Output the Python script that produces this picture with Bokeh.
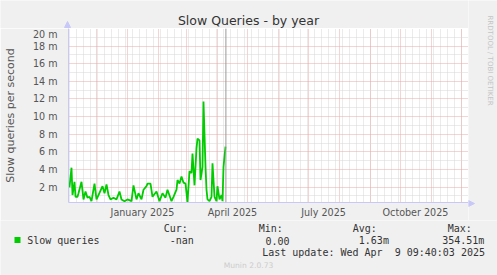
import math
import pandas as pd
from bokeh.plotting import figure
from bokeh.layouts import column, row
from bokeh.models import Range1d, FixedTicker, Label, Span, Arrow, NormalHead
from bokeh.embed import file_html
from bokeh.resources import INLINE

# ---------------- data ----------------
dates = [
    "2024-11-03", "2024-11-04", "2024-11-06", "2024-11-07", "2024-11-09", "2024-11-10",
    "2024-11-12", "2024-11-13", "2024-11-16", "2024-11-18", "2024-11-20", "2024-11-22",
    "2024-11-24", "2024-11-26", "2024-11-29", "2024-12-01", "2024-12-03", "2024-12-07",
    "2024-12-09", "2024-12-11", "2024-12-13", "2024-12-15", "2024-12-18", "2024-12-21",
    "2024-12-24", "2024-12-26", "2024-12-29", "2025-01-01", "2025-01-05", "2025-01-07",
    "2025-01-10", "2025-01-12", "2025-01-15", "2025-01-17", "2025-01-20", "2025-01-21",
    "2025-01-24", "2025-01-26", "2025-01-30", "2025-02-02", "2025-02-05", "2025-02-08",
    "2025-02-10", "2025-02-14", "2025-02-16", "2025-02-19", "2025-02-20", "2025-02-22",
    "2025-02-24", "2025-02-26", "2025-02-28", "2025-03-02", "2025-03-04", "2025-03-06",
    "2025-03-07", "2025-03-09", "2025-03-11", "2025-03-12", "2025-03-14", "2025-03-15",
    "2025-03-17", "2025-03-18", "2025-03-20", "2025-03-21", "2025-03-22", "2025-03-24",
    "2025-03-26", "2025-03-27", "2025-03-29", "2025-03-31", "2025-04-01", "2025-04-03",
    "2025-04-05", "2025-04-06", "2025-04-07", "2025-04-09",
]
slow_queries_m = [
    2.3, 2.0, 4.2, 1.1, 2.6, 0.9,
    0.9, 1.3, 2.6, 0.6, 1.5, 0.8,
    0.9, 0.4, 2.4, 0.6, 1.1, 2.1,
    1.3, 2.3, 1.1, 0.6, 0.8, 0.6,
    1.5, 0.6, 0.4, 0.6, 0.4, 2.2,
    0.6, 1.3, 0.6, 1.7, 2.1, 2.4,
    2.4, 0.9, 1.5, 0.4, 1.3, 0.8,
    1.7, 0.4, 0.9, 1.7, 2.8, 2.4,
    3.2, 2.5, 2.4, 0.3, 3.8, 3.6,
    5.8, 2.2, 6.4, 7.5, 7.3, 2.8,
    4.3, 11.7, 4.3, 1.7, 0.6, 0.4,
    0.9, 4.7, 0.9, 0.4, 2.1, 0.6,
    1.1, 0.4, 4.3, 6.6,
]

y_ticks = [2, 4, 6, 8, 10, 12, 14, 16, 18, 20]
y_minor = [1, 3, 5, 7, 9, 11, 13, 15, 17, 19]
y_tick_labels = ["2 m", "4 m", "6 m", "8 m", "10 m", "12 m", "14 m", "16 m", "18 m", "20 m"]
x_tick_dates = ["2025-01-16", "2025-04-16", "2025-07-16", "2025-10-16"]
x_tick_labels = ["January 2025", "April 2025", "July 2025", "October 2025"]
range_start = "2024-11-03"
range_end = "2025-12-08"
now_time = "2025-04-09 09:40:03"

series_name = "Slow queries"
stat_cur = "-nan"
stat_min = "0.00"
stat_avg = "1.63m"
stat_max = "354.51m"
last_update = "Last update: Wed Apr  9 09:40:03 2025"


def ms(s):
    return pd.Timestamp(s).value / 1e6


# ---------------- layout constants ----------------
W, H = 497, 275
FL, FT, FR, FB = 67, 28, 468, 203   # frame left/top/right/bottom (canvas px)
MAIN_H = 220                         # main chart block height (title + chart)
BG = "#F0F0F0"
GREEN = "#00CC00"
AXIS = "#C8C8F8"
MGRID = "#EAA8A8"
GRID = "#D6D6D6"
SANS = "DejaVu Sans"
MONO = "DejaVu Sans Mono"


def blank(w, h, x0, x1, y0, y1):
    """A figure with no axes whose data coordinates equal canvas pixels."""
    f = figure(width=w, height=h, x_range=Range1d(x0, x1), y_range=Range1d(y1, y0),
               x_axis_location=None, y_axis_location=None,
               output_backend="svg", toolbar_location=None,
               min_border=0, background_fill_color=BG, border_fill_color=BG)
    f.grid.visible = False
    f.outline_line_color = None
    f.title.visible = False
    return f


# ---------------- main chart ----------------
p = figure(
    width=FR, height=MAIN_H - FT,
    x_axis_type="datetime",
    x_range=Range1d(ms(range_start), ms(range_end)),
    y_range=Range1d(0.25, 20),
    output_backend="svg", toolbar_location=None,
    min_border_left=FL, min_border_right=0,
    min_border_top=0, min_border_bottom=MAIN_H - FB,
    background_fill_color="white", border_fill_color=BG,
)
p.title.visible = False
p.outline_line_color = None

p.line(pd.to_datetime(dates), slow_queries_m, line_color=GREEN, line_width=1.8)

yax = p.yaxis[0]
yax.ticker = FixedTicker(ticks=y_ticks, minor_ticks=y_minor)
yax.major_label_overrides = {t: l for t, l in zip(y_ticks, y_tick_labels)}
yax.axis_line_color = AXIS
yax.major_tick_line_color = None
yax.minor_tick_line_color = None
yax.major_tick_out = 0
yax.major_tick_in = 0
yax.major_label_standoff = 7
yax.major_label_text_font = SANS
yax.major_label_text_font_size = "9.6px"
yax.major_label_text_color = "#555555"
yax.axis_label = "Slow queries per second"
yax.axis_label_text_font = SANS
yax.axis_label_text_font_size = "11px"
yax.axis_label_text_font_style = "normal"
yax.axis_label_text_color = "#555555"
yax.axis_label_standoff = 13

xt = [ms(d) for d in x_tick_dates]
xax = p.xaxis[0]
xax.ticker = FixedTicker(ticks=xt, minor_ticks=[])
xax.major_label_overrides = {t: l for t, l in zip(xt, x_tick_labels)}
xax.axis_line_color = AXIS
xax.major_tick_line_color = None
xax.minor_tick_line_color = None
xax.major_tick_out = 0
xax.major_tick_in = 0
xax.major_label_standoff = 4
xax.major_label_text_font = SANS
xax.major_label_text_font_size = "9.6px"
xax.major_label_text_color = "#555555"

month_starts = [ms(d) for d in pd.date_range("2024-12-01", "2025-12-01", freq="MS")]
weeks = [ms(d) for d in pd.date_range(range_start, range_end, freq="W-MON")]
p.xgrid[0].ticker = FixedTicker(ticks=month_starts, minor_ticks=weeks)
for g in (p.xgrid[0], p.ygrid[0]):
    g.grid_line_color = MGRID
    g.grid_line_dash = "1 1"
    g.grid_line_width = 1
    g.minor_grid_line_color = GRID
    g.minor_grid_line_dash = "1 1"
    g.minor_grid_line_width = 1
    g.level = "underlay"

p.add_layout(Span(location=ms(now_time), dimension="height", line_color="#999999", line_width=1))

# ---------------- title strip (top) ----------------
top = blank(FR, FT, 0, FR, 0, FT)
top.add_layout(Label(x=248, y=20, text="Slow Queries - by year", text_font=SANS,
                     text_font_size="12.5px", text_color="#333333",
                     text_align="center", text_baseline="alphabetic"))
top.add_layout(Arrow(x_start=FL, y_start=FT, x_end=FL, y_end=21, line_color=AXIS, line_width=1,
                     end=NormalHead(size=6, fill_color=AXIS, line_color=AXIS)))

# ---------------- watermark strip (right) ----------------
wm = blank(W - FR, MAIN_H, FR, W, 0, MAIN_H)
wm.add_layout(Label(x=489, y=15, text="RRDTOOL / TOBI OETIKER", text_font=SANS,
                    text_font_size="7px", text_color="#C4C4C4",
                    text_align="left", text_baseline="middle", angle=-math.pi / 2))
wm.add_layout(Arrow(x_start=FR, y_start=FB, x_end=FR + 6, y_end=FB, line_color=AXIS, line_width=1,
                    end=NormalHead(size=6, fill_color=AXIS, line_color=AXIS)))

# ---------------- legend strip (bottom) ----------------
leg = blank(W, H - MAIN_H, 0, W, MAIN_H, H)


def lab(text, x, y, size="10px", color="#333333", font=MONO, align="left"):
    leg.add_layout(Label(x=x, y=y, text=text, text_font=font, text_font_size=size,
                         text_color=color, text_align=align, text_baseline="alphabetic"))


r1, r2, r3 = 228.0, 240.0, 251.8
lab("Cur:", 163.3, r1)
lab("Min:", 258.3, r1)
lab("Avg:", 352.3, r1)
lab("Max:", 447.3, r1)
lab(series_name, 26.7, r2)
lab(stat_cur, 169.3, r2)
lab(stat_min, 265.0, r2)
lab(stat_avg, 358.3, r2)
lab(stat_max, 441.7, r2)
lab(last_update.replace("  ", " \u00a0"), 261.7, r3)
lab("Munin 2.0.73", 248, 265, size="7.6px", color="#CCCCCC", font=SANS, align="center")
leg.quad(left=[14], right=[20], top=[236.5], bottom=[242.5], fill_color=GREEN, line_color=None)

layout = column(row(column(top, row(p)), wm), leg)
open("out.html", "w").write(file_html(layout, INLINE))
